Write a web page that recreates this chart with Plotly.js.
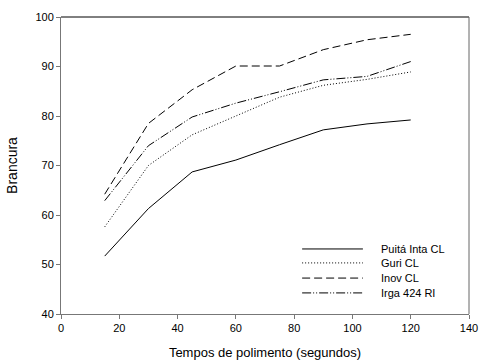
<!DOCTYPE html>
<html><head><meta charset="utf-8">
<script src="https://cdn.plot.ly/plotly-3.0.1.min.js"></script>
<style>html,body{margin:0;padding:0;background:#fff}#c{width:480px;height:360px}</style>
</head><body><div id="c"></div>
<script>
const tempos = [15, 30, 45, 60, 75, 90, 105, 120];
const puita = [51.7, 61.3, 68.7, 71.1, 74.2, 77.2, 78.4, 79.2];
const guri = [57.6, 70.0, 76.2, 80.0, 83.8, 86.2, 87.4, 88.9];
const inov = [64.2, 78.5, 85.3, 90.1, 90.1, 93.4, 95.4, 96.5];
const irga = [62.9, 74.0, 79.8, 82.6, 84.9, 87.3, 88.0, 91.0];
const names = ["Puitá Inta CL", "Guri CL", "Inov CL", "Irga 424 RI"];

const dashes = ["solid", "1px,2px", "8px,4px", "9px,2px,1px,2px,1px,2px"];
const series = [puita, guri, inov, irga];
const traces = series.map((s, i) => ({
  x: tempos, y: s, name: names[i], type: "scatter", mode: "lines",
  line: {color: "#000", width: 1, dash: dashes[i]}, showlegend: false
}));

// manual legend (keys + labels), placed in paper coordinates
const legY = [0.219, 0.172, 0.121, 0.071];
const shapes = [
  {type: "line", xref: "paper", yref: "paper", x0: 0, x1: 1, y0: 1, y1: 1, line: {color: "#000", width: 1}},
  {type: "line", xref: "paper", yref: "paper", x0: 1, x1: 1, y0: 0, y1: 1, line: {color: "#666", width: 1}}
];
const annotations = [];
names.forEach((n, i) => {
  shapes.push({type: "line", xref: "paper", yref: "paper", x0: 0.591, x1: 0.740, y0: legY[i], y1: legY[i],
    line: {color: "#000", width: 1, dash: dashes[i]}});
  annotations.push({xref: "paper", yref: "paper", x: 0.779, y: legY[i], xanchor: "left", yanchor: "middle",
    text: n, showarrow: false, font: {size: 11}});
});

const layout = {
  width: 480, height: 360,
  margin: {l: 61, r: 11, t: 17, b: 46},
  paper_bgcolor: "#fff", plot_bgcolor: "#fff",
  font: {family: "Liberation Sans, Arial, sans-serif", size: 11, color: "#000"},
  showlegend: false,
  xaxis: {range: [0, 140], dtick: 20, showgrid: false, zeroline: false,
    ticks: "outside", ticklen: 4, tickcolor: "#777", showline: true, linecolor: "#777", linewidth: 1,
    title: {text: "Tempos de polimento (segundos)", standoff: 17, font: {size: 13}}},
  yaxis: {range: [40, 100], dtick: 10, showgrid: false, zeroline: false,
    ticks: "outside", ticklen: 4, tickcolor: "#777", showline: true, linecolor: "#777", linewidth: 1,
    title: {text: "Brancura", standoff: 14, font: {size: 14}}},
  shapes: shapes,
  annotations: annotations
};
Plotly.newPlot("c", traces, layout, {staticPlot: true});
</script></body></html>
